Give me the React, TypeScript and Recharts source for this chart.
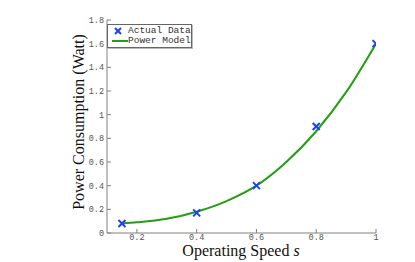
import { ComposedChart, Line, Scatter, XAxis, YAxis, Label } from "recharts";

// measured samples
const speeds = [0.15, 0.4, 0.6, 0.8, 1.0];
const power = [0.08, 0.17, 0.4, 0.9, 1.6];

// fitted model curve
const modelSpeeds = [0.15, 0.2, 0.3, 0.4, 0.5, 0.6, 0.7, 0.8, 0.9, 1.0];
const modelPower = [0.08, 0.09, 0.12, 0.18, 0.27, 0.4, 0.6, 0.86, 1.19, 1.6];

const xTicks = [0.2, 0.4, 0.6, 0.8, 1];
const yTicks = [0, 0.2, 0.4, 0.6, 0.8, 1, 1.2, 1.4, 1.6, 1.8];

const actual = speeds.map((s, i) => ({ s, p: power[i] }));
const model = modelSpeeds.map((s, i) => ({ s, p: modelPower[i] }));

const AXIS = "#808080";
const TICK_FONT = { fontSize: 8.5, fontFamily: "Liberation Mono", fill: "#555" };
const BLUE = "#2040f0";
const GREEN = "#20a010";

const fmt = (v: number) => String(v);

const Cross = (props: any) => {
  const { cx, cy } = props;
  const r = 3.5;
  return (
    <g stroke={BLUE} strokeWidth={2}>
      <line x1={cx - r} y1={cy - r} x2={cx + r} y2={cy + r} />
      <line x1={cx - r} y1={cy + r} x2={cx + r} y2={cy - r} />
    </g>
  );
};

const NoTick = () => <g />;

export default function App() {
  return (
    <div style={{ position: "absolute", left: 0, top: 0, width: 415, height: 262, background: "#fff" }}>
      <ComposedChart width={415} height={262} margin={{ top: 20, right: 39, bottom: 0, left: 0 }}>
        <XAxis
          xAxisId="b"
          type="number"
          dataKey="s"
          domain={[0.1, 1]}
          ticks={xTicks}
          tickFormatter={fmt}
          height={29}
          tickSize={-4}
          tickMargin={4.5}
          stroke={AXIS}
          tick={TICK_FONT}
          allowDataOverflow
        >
          <Label
            content={() => (
              <text x={241} y={256} textAnchor="middle" fontFamily="Liberation Serif" fontSize={16} fill="#111">
                Operating Speed <tspan fontStyle="italic">s</tspan>
              </text>
            )}
          />
        </XAxis>
        <XAxis
          xAxisId="t"
          orientation="top"
          type="number"
          dataKey="s"
          domain={[0.1, 1]}
          ticks={xTicks}
          height={0}
          tickSize={-4}
          stroke={AXIS}
          tick={NoTick}
          allowDataOverflow
        />
        <YAxis
          yAxisId="l"
          type="number"
          dataKey="p"
          domain={[0, 1.8]}
          ticks={yTicks}
          tickFormatter={fmt}
          width={107}
          tickSize={-4}
          tickMargin={7}
          stroke={AXIS}
          tick={TICK_FONT}
          allowDataOverflow
        >
          <Label
            content={() => (
              <text
                x={84}
                y={122}
                transform="rotate(-90 84 122)"
                textAnchor="middle"
                fontFamily="Liberation Serif"
                fontSize={16}
                fill="#111"
              >
                Power Consumption (Watt)
              </text>
            )}
          />
        </YAxis>
        <YAxis
          yAxisId="r"
          orientation="right"
          type="number"
          dataKey="p"
          domain={[0, 1.8]}
          ticks={yTicks}
          width={0}
          tickSize={-4}
          stroke={AXIS}
          tick={NoTick}
          allowDataOverflow
        />
        <Line
          xAxisId="b"
          yAxisId="l"
          data={model}
          dataKey="p"
          type="monotone"
          stroke={GREEN}
          strokeWidth={2}
          dot={false}
          isAnimationActive={false}
        />
        <Scatter xAxisId="b" yAxisId="l" data={actual} dataKey="p" shape={Cross} isAnimationActive={false} />
      </ComposedChart>
      <div
        style={{
          position: "absolute",
          left: 107,
          top: 24,
          width: 83,
          height: 21,
          border: "1px solid #666",
          boxShadow: "1px 1px 0 #bbb",
          background: "#fff",
          fontFamily: "Liberation Mono",
          fontSize: 9.5,
          color: "#333",
          lineHeight: "10px",
          paddingTop: 1,
          boxSizing: "content-box",
        }}
      >
        <div style={{ display: "flex", alignItems: "center" }}>
          <svg width={20} height={10}>
            <g stroke={BLUE} strokeWidth={2}>
              <line x1={7} y1={2} x2={13} y2={8} />
              <line x1={7} y1={8} x2={13} y2={2} />
            </g>
          </svg>
          <span>Actual Data</span>
        </div>
        <div style={{ display: "flex", alignItems: "center" }}>
          <svg width={20} height={10}>
            <line x1={4} y1={5} x2={20} y2={5} stroke={GREEN} strokeWidth={2} />
          </svg>
          <span>Power Model</span>
        </div>
      </div>
    </div>
  );
}
